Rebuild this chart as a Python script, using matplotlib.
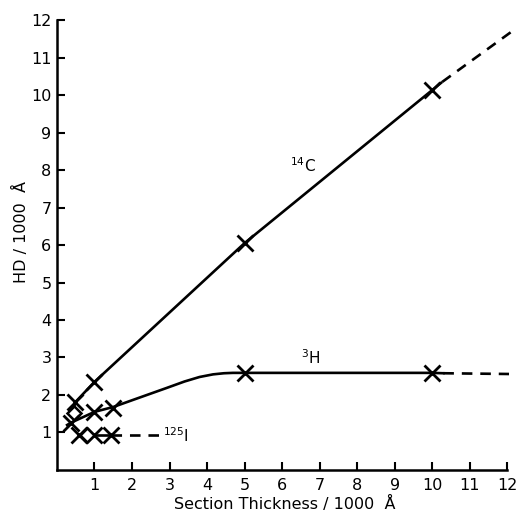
import matplotlib
matplotlib.use("Agg")
import matplotlib.pyplot as plt

# ---- data ----
# 14C
c14_mark_x = [0.48, 1.0, 5.0, 10.0]
c14_mark_y = [1.80, 2.35, 6.05, 10.13]
c14_diam_x = [0.45]
c14_diam_y = [1.52]
c14_line_x = [0.45, 0.48, 1.0, 5.0, 10.0, 10.27]
c14_line_y = [1.58, 1.80, 2.35, 6.05, 10.13, 10.35]
c14_ext_x = [10.27, 12.2]
c14_ext_y = [10.35, 11.75]

# 3H
h3_mark_x = [0.37, 1.0, 1.5, 5.0, 10.0]
h3_mark_y = [1.26, 1.55, 1.66, 2.59, 2.59]
h3_line_x = [0.27, 0.37, 1.0, 1.5, 2.03, 2.93, 3.4, 3.8, 4.16, 4.45, 4.69, 5.0, 10.0, 10.3]
h3_line_y = [1.20, 1.26, 1.55, 1.68, 1.87, 2.19, 2.36, 2.48, 2.55, 2.58, 2.59, 2.59, 2.59, 2.58]
h3_ext_x = [10.3, 12.05]
h3_ext_y = [2.58, 2.56]

# 125I
i125_mark_x = [0.59, 1.0, 1.44]
i125_mark_y = [0.92, 0.92, 0.92]
i125_diam_x = [0.80]
i125_diam_y = [0.92]
i125_line_x = [0.59, 1.44]
i125_line_y = [0.92, 0.92]
i125_ext_x = [1.44, 2.82]
i125_ext_y = [0.92, 0.92]

ticks = list(range(1, 13))

fig = plt.figure(figsize=(5.18, 5.25), dpi=100)
ax = fig.add_axes([0.110, 0.1048, 0.869, 0.857])
ax.set_xlim(0, 12)
ax.set_ylim(0, 12)

lw = 1.9
dash = (0, (4, 3))
k = 'black'

ax.plot(c14_line_x, c14_line_y, color=k, lw=lw, solid_capstyle='butt')
ax.plot(c14_ext_x, c14_ext_y, color=k, lw=lw, linestyle=dash, clip_on=False)
ax.plot(c14_mark_x, c14_mark_y, 'x', color=k, ms=11, mew=2)
ax.plot(c14_diam_x, c14_diam_y, 'D', color=k, mfc='white', ms=7, mew=1.8)

ax.plot(h3_line_x, h3_line_y, color=k, lw=lw)
ax.plot(h3_ext_x, h3_ext_y, color=k, lw=lw, linestyle=dash, clip_on=False)
ax.plot(h3_mark_x, h3_mark_y, 'x', color=k, ms=11, mew=2)

ax.plot(i125_line_x, i125_line_y, color=k, lw=lw)
ax.plot(i125_ext_x, i125_ext_y, color=k, lw=lw, linestyle=dash)
ax.plot(i125_mark_x, i125_mark_y, 'x', color=k, ms=11, mew=2)
ax.plot(i125_diam_x, i125_diam_y, 'D', color=k, mfc='white', ms=7, mew=1.8)

ax.text(6.56, 8.13, r'$^{14}\mathrm{C}$', fontsize=11, ha='center', va='center')
ax.text(6.75, 2.99, r'$^{3}\mathrm{H}$', fontsize=11, ha='center', va='center')
ax.text(2.83, 0.92, r'$^{125}\mathrm{I}$', fontsize=11, ha='left', va='center')

ax.set_xticks(ticks)
ax.set_yticks(ticks)
ax.set_xticklabels([str(t) for t in ticks])
ax.set_yticklabels([str(t) for t in ticks])
ax.tick_params(direction='in', length=6, width=1.5, labelsize=11.5)
ax.tick_params(axis='y', pad=4)
ax.tick_params(axis='x', pad=6)
for s in ['top', 'right']:
    ax.spines[s].set_visible(False)
for s in ['left', 'bottom']:
    ax.spines[s].set_linewidth(1.8)

ax.set_xlabel('Section Thickness / 1000  Å', fontsize=11.5)
ax.set_ylabel('HD / 1000  Å', fontsize=11.5)
ax.xaxis.set_label_coords(0.507, -0.058)
ax.yaxis.set_label_coords(-0.062, 0.53)

fig.savefig('out.png', dpi=100)
